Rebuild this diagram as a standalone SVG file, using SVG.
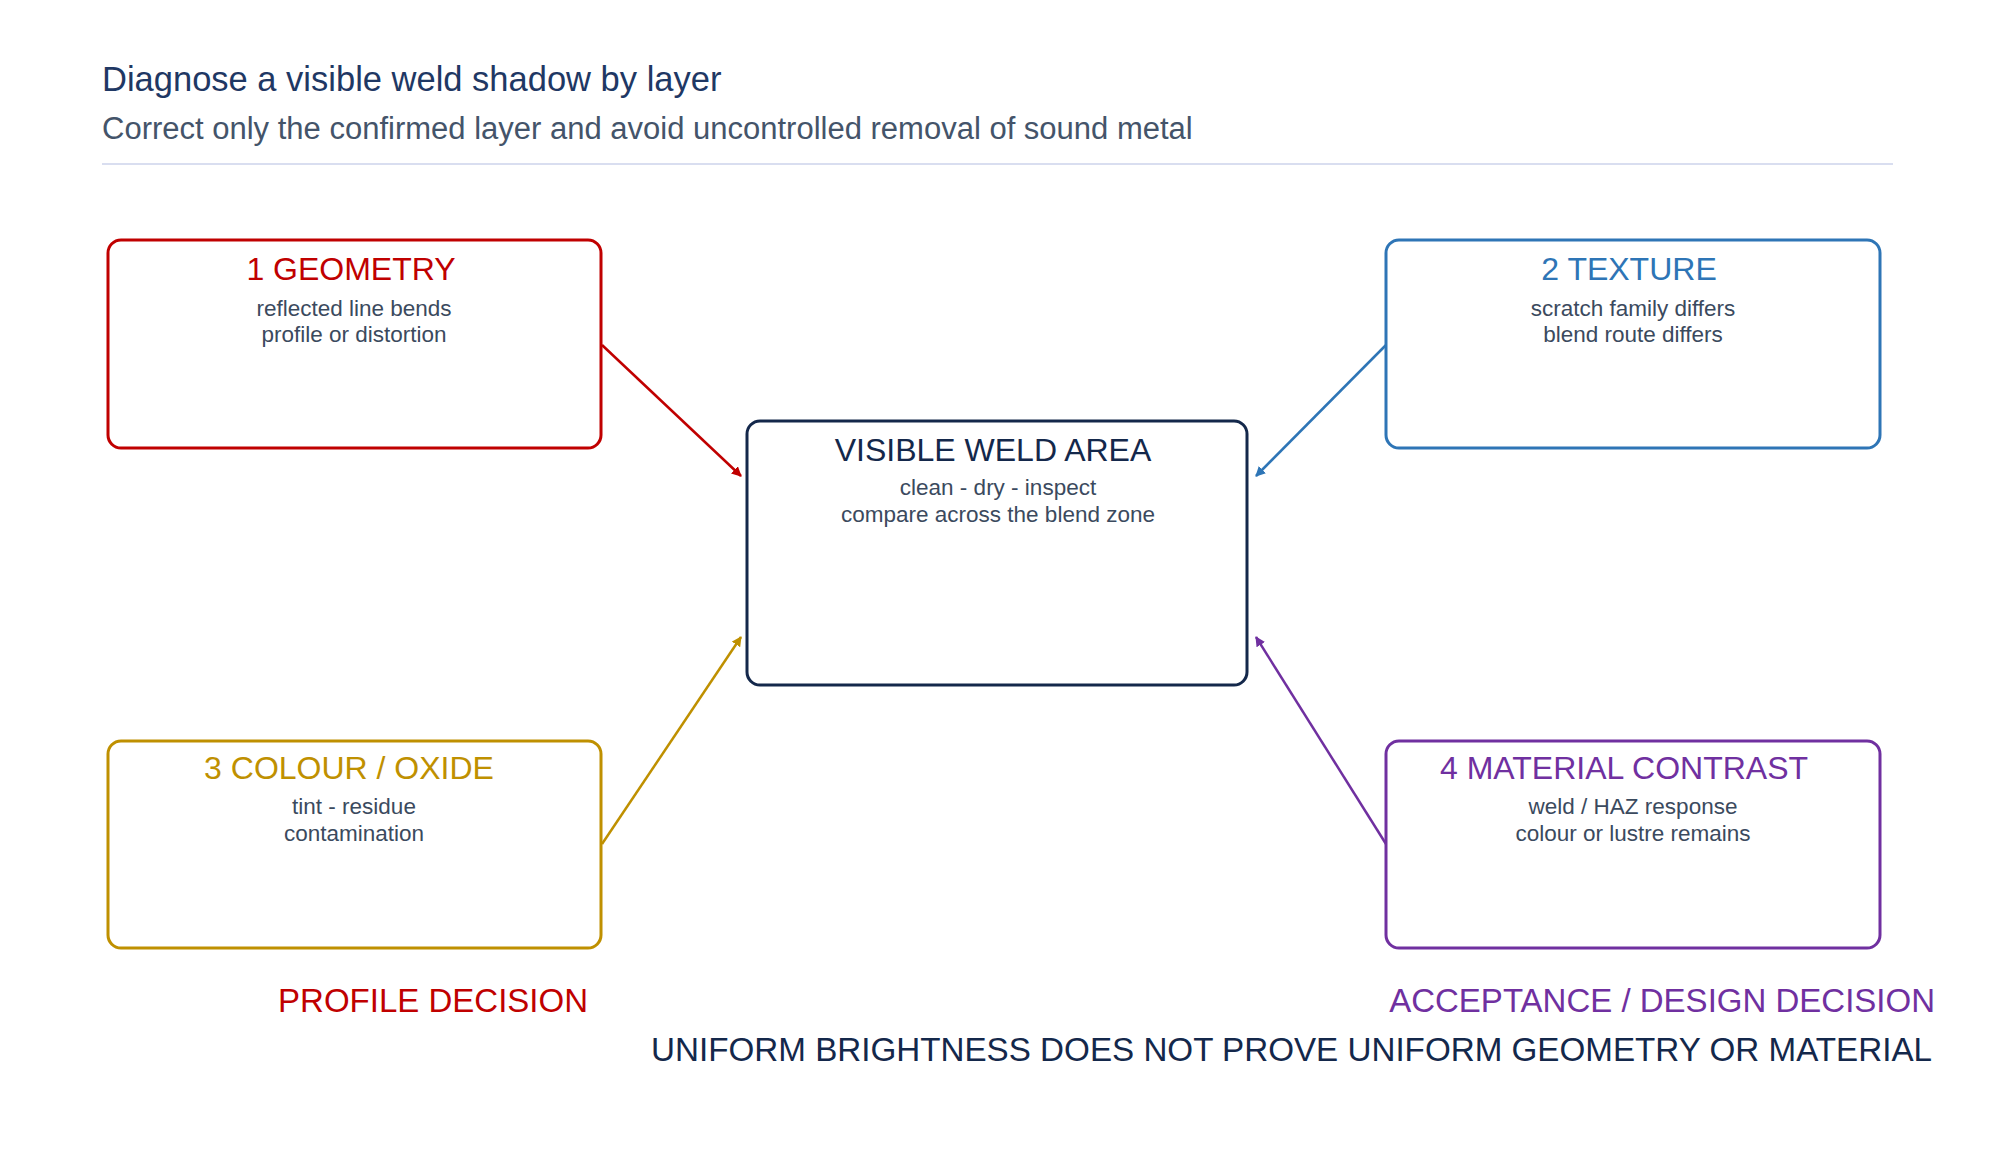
<svg xmlns="http://www.w3.org/2000/svg" width="1994" height="1161" viewBox="0 0 1994 1161">
<style>
text{font-family:"Liberation Sans",Arial,sans-serif}
.box{fill:#fff;stroke-width:3}
.t{font-size:32px;text-anchor:middle}
.s{font-size:22.5px;text-anchor:middle;fill:#3b4a5e}
.c{stroke-width:2.5;fill:none}
</style>
<defs>
<marker id="mr" markerWidth="10" markerHeight="10" refX="9" refY="5" orient="auto" markerUnits="userSpaceOnUse"><path d="M0,0L10,5L0,10z" fill="#c00000"/></marker>
<marker id="mb" markerWidth="10" markerHeight="10" refX="9" refY="5" orient="auto" markerUnits="userSpaceOnUse"><path d="M0,0L10,5L0,10z" fill="#2e75b6"/></marker>
<marker id="mg" markerWidth="10" markerHeight="10" refX="9" refY="5" orient="auto" markerUnits="userSpaceOnUse"><path d="M0,0L10,5L0,10z" fill="#bf9000"/></marker>
<marker id="mp" markerWidth="10" markerHeight="10" refX="9" refY="5" orient="auto" markerUnits="userSpaceOnUse"><path d="M0,0L10,5L0,10z" fill="#7030a0"/></marker>
</defs>
<rect width="1994" height="1161" fill="#fff"/>
<text x="102" y="91" font-size="34.5" fill="#1f3864">Diagnose a visible weld shadow by layer</text>
<text x="102" y="139" font-size="31" fill="#44546a">Correct only the confirmed layer and avoid uncontrolled removal of sound metal</text>
<line x1="102" y1="164" x2="1893" y2="164" stroke="#d9def0" stroke-width="2"/>
<g id="connectors">
<line class="c" x1="602" y1="345" x2="741" y2="476" stroke="#c00000" marker-end="url(#mr)"/>
<line class="c" x1="1386" y1="345" x2="1256" y2="476" stroke="#2e75b6" marker-end="url(#mb)"/>
<line class="c" x1="602" y1="844" x2="741" y2="637" stroke="#bf9000" marker-end="url(#mg)"/>
<line class="c" x1="1386" y1="844" x2="1256" y2="637" stroke="#7030a0" marker-end="url(#mp)"/>
</g>
<g id="center">
<rect class="box" x="747" y="421" width="500" height="264" rx="13" stroke="#14284b"/>
<text class="t" x="993" y="461" fill="#14284b">VISIBLE WELD AREA</text>
<text class="s" x="998" y="495">clean - dry - inspect</text>
<text class="s" x="998" y="522">compare across the blend zone</text>
</g>
<g id="geometry">
<rect class="box" x="108" y="240" width="493" height="208" rx="13" stroke="#c00000"/>
<text class="t" x="351" y="280" fill="#c00000">1 GEOMETRY</text>
<text class="s" x="354" y="316">reflected line bends</text>
<text class="s" x="354" y="342">profile or distortion</text>
</g>
<g id="texture">
<rect class="box" x="1386" y="240" width="494" height="208" rx="13" stroke="#2e75b6"/>
<text class="t" x="1629" y="280" fill="#2e75b6">2 TEXTURE</text>
<text class="s" x="1633" y="316">scratch family differs</text>
<text class="s" x="1633" y="342">blend route differs</text>
</g>
<g id="colour">
<rect class="box" x="108" y="741" width="493" height="207" rx="13" stroke="#bf9000"/>
<text class="t" x="349" y="779" fill="#bf9000">3 COLOUR / OXIDE</text>
<text class="s" x="354" y="814">tint - residue</text>
<text class="s" x="354" y="841">contamination</text>
</g>
<g id="material">
<rect class="box" x="1386" y="741" width="494" height="207" rx="13" stroke="#7030a0"/>
<text class="t" x="1624" y="779" fill="#7030a0">4 MATERIAL CONTRAST</text>
<text class="s" x="1633" y="814">weld / HAZ response</text>
<text class="s" x="1633" y="841">colour or lustre remains</text>
</g>
<text x="588" y="1012" font-size="33" text-anchor="end" fill="#c00000">PROFILE DECISION</text>
<text x="1935" y="1012" font-size="33" text-anchor="end" fill="#7030a0">ACCEPTANCE / DESIGN DECISION</text>
<text x="1932" y="1061" font-size="33.2" text-anchor="end" fill="#14284b">UNIFORM BRIGHTNESS DOES NOT PROVE UNIFORM GEOMETRY OR MATERIAL</text>
</svg>
